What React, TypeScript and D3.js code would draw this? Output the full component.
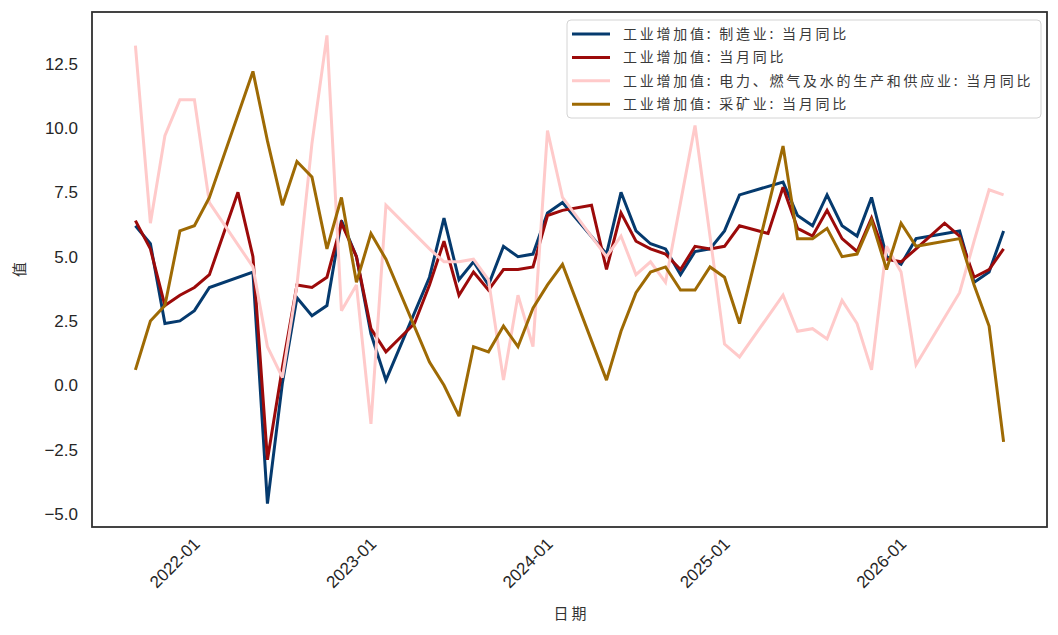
import { useRef, useEffect } from "react";
import * as d3 from "d3";

const WIDTH = 1058;
const HEIGHT = 635;

// month-end observations, null = not reported (Jan, or Jan-Feb combined)
const months = [
  "2021-07", "2021-08", "2021-09", "2021-10", "2021-11", "2021-12",
  "2022-01", "2022-02", "2022-03", "2022-04", "2022-05", "2022-06",
  "2022-07", "2022-08", "2022-09", "2022-10", "2022-11", "2022-12",
  "2023-01", "2023-02", "2023-03", "2023-04", "2023-05", "2023-06",
  "2023-07", "2023-08", "2023-09", "2023-10", "2023-11", "2023-12",
  "2024-01", "2024-02", "2024-03", "2024-04", "2024-05", "2024-06",
  "2024-07", "2024-08", "2024-09", "2024-10", "2024-11", "2024-12",
  "2025-01", "2025-02", "2025-03", "2025-04", "2025-05", "2025-06",
  "2025-07", "2025-08", "2025-09", "2025-10", "2025-11", "2025-12",
  "2026-01", "2026-02", "2026-03", "2026-04", "2026-05", "2026-06",
];

const manufacturing = [
  6.2, 5.5, 2.4, 2.5, 2.9, 3.8,
  null, null, 4.4, -4.6, 0.1, 3.4,
  2.7, 3.1, 6.4, 5.0, 2.0, 0.2,
  null, null, 4.2, 6.5, 4.1, 4.8,
  3.9, 5.4, 5.0, 5.1, 6.7, 7.1,
  null, null, 5.1, 7.5, 6.0, 5.5,
  5.3, 4.3, 5.2, 5.3, 6.0, 7.4,
  null, null, 7.9, 6.6, 6.2, 7.4,
  6.2, 5.8, 7.3, 5.0, 4.7, 5.7,
  null, null, 6.0, 4.0, 4.4, 6.0,
];

const total = [
  6.4, 5.3, 3.1, 3.5, 3.8, 4.3,
  null, 7.5, 5.0, -2.9, 0.7, 3.9,
  3.8, 4.2, 6.3, 5.0, 2.2, 1.3,
  null, 2.4, 3.9, 5.6, 3.5, 4.4,
  3.7, 4.5, 4.5, 4.6, 6.6, 6.8,
  null, 7.0, 4.5, 6.7, 5.6, 5.3,
  5.1, 4.5, 5.4, 5.3, 5.4, 6.2,
  null, 5.9, 7.7, 6.1, 5.8, 6.8,
  5.7, 5.2, 6.5, 4.9, 4.8, 5.3,
  null, 6.3, 5.8, 4.2, 4.5, 5.3,
];

const utilities = [
  13.2, 6.3, 9.7, 11.1, 11.1, 7.1,
  null, null, 4.6, 1.5, 0.3, 3.9,
  9.4, 13.6, 2.9, 3.9, -1.5, 7.0,
  null, null, 5.3, 4.8, 4.8, 4.9,
  4.1, 0.2, 3.5, 1.5, 9.9, 7.3,
  null, null, 5.0, 5.8, 4.3, 4.8,
  4.0, 7.1, 10.1, 5.8, 1.6, 1.1,
  null, null, 3.5, 2.1, 2.2, 1.8,
  3.3, 2.4, 0.6, 5.4, 4.4, 0.8,
  null, null, 3.6, 5.6, 7.6, 7.4,
];

const mining = [
  0.6, 2.5, 3.1, 6.0, 6.2, 7.3,
  null, null, 12.2, 9.5, 7.0, 8.7,
  8.1, 5.3, 7.3, 4.0, 5.9, 4.9,
  null, null, 0.9, 0.0, -1.2, 1.5,
  1.3, 2.3, 1.5, 3.0, 3.9, 4.7,
  null, null, 0.2, 2.1, 3.6, 4.4,
  4.6, 3.7, 3.7, 4.6, 4.2, 2.4,
  null, null, 9.3, 5.7, 5.7, 6.1,
  5.0, 5.1, 6.4, 4.5, 6.3, 5.4,
  null, null, 5.7, 3.9, 2.3, -2.2,
];

const seriesNames = [
  "工业增加值: 制造业: 当月同比",
  "工业增加值: 当月同比",
  "工业增加值: 电力、燃气及水的生产和供应业: 当月同比",
  "工业增加值: 采矿业: 当月同比",
];
const seriesValues = [manufacturing, total, utilities, mining];
const seriesColors = ["#053a6e", "#9c0a0a", "#ffcaca", "#9e6a04"];

const yTicks = [-5, -2.5, 0, 2.5, 5, 7.5, 10, 12.5];
const xTicks = ["2022-01", "2023-01", "2024-01", "2025-01", "2026-01"];

const TICK_FONT = "'Liberation Sans', Arial, sans-serif";
const CJK_FONT = "'Noto Sans CJK SC', 'Noto Sans', sans-serif";

const monthEnd = (s: string) => {
  const [y, m] = s.split("-").map(Number);
  return new Date(y, m, 0);
};
const monthStart = (s: string) => {
  const [y, m] = s.split("-").map(Number);
  return new Date(y, m - 1, 1);
};

export default function App() {
  const svgRef = useRef<SVGSVGElement>(null);

  useEffect(() => {
    if (!svgRef.current) return;
    const svg = d3.select(svgRef.current);
    svg.selectAll("*").remove();

    const left = 92;
    const right = 1047;
    const top = 12;
    const bottom = 527;

    const dates = months.map(monthEnd);
    const t0 = +dates[0];
    const t1 = +dates[dates.length - 1];
    const tPad = (t1 - t0) * 0.05;
    const x = d3
      .scaleTime()
      .domain([new Date(t0 - tPad), new Date(t1 + tPad)])
      .range([left, right]);

    const all = seriesValues.flat().filter((v) => v != null) as number[];
    const [vMin, vMax] = d3.extent(all) as [number, number];
    const vPad = (vMax - vMin) * 0.05;
    const y = d3
      .scaleLinear()
      .domain([vMin - vPad, vMax + vPad])
      .range([bottom, top]);

    svg
      .append("rect")
      .attr("width", WIDTH)
      .attr("height", HEIGHT)
      .attr("fill", "#ffffff");

    const line = d3
      .line<{ d: Date; v: number }>()
      .x((p) => x(p.d))
      .y((p) => y(p.v));

    seriesValues.forEach((vals, i) => {
      const pts = vals
        .map((v, j) => ({ d: dates[j], v: v as number }))
        .filter((p, j) => vals[j] != null);
      svg
        .append("path")
        .datum(pts)
        .attr("d", line)
        .attr("fill", "none")
        .attr("stroke", seriesColors[i])
        .attr("stroke-width", 3)
        .attr("stroke-linejoin", "miter")
        .attr("stroke-miterlimit", 3);
    });

    // frame
    svg
      .append("rect")
      .attr("x", left)
      .attr("y", top)
      .attr("width", right - left)
      .attr("height", bottom - top)
      .attr("fill", "none")
      .attr("stroke", "#303030")
      .attr("stroke-width", 1.8);

    // y ticks
    svg
      .append("g")
      .selectAll("text")
      .data(yTicks)
      .join("text")
      .attr("x", left - 14)
      .attr("y", (d) => y(d))
      .attr("dy", "0.36em")
      .attr("text-anchor", "end")
      .attr("font-family", TICK_FONT)
      .attr("font-size", 17)
      .attr("fill", "#262626")
      .text((d) => d3.format(".1f")(d).replace("-", "\u2212"));

    // x ticks
    svg
      .append("g")
      .selectAll("text")
      .data(xTicks)
      .join("text")
      .attr(
        "transform",
        (d) => `translate(${x(monthStart(d)) - 9},${bottom + 18}) rotate(-45)`
      )
      .attr("text-anchor", "end")
      .attr("font-family", TICK_FONT)
      .attr("font-size", 17)
      .attr("fill", "#262626")
      .text((d) => d);

    // axis labels
    svg
      .append("text")
      .attr("x", (left + right) / 2 + 2)
      .attr("y", 619)
      .attr("text-anchor", "middle")
      .attr("font-family", CJK_FONT)
      .attr("font-size", 15)
      .attr("letter-spacing", 3)
      .attr("fill", "#333333")
      .text("日期");

    svg
      .append("text")
      .attr("transform", `translate(20,${(top + bottom) / 2}) rotate(-90)`)
      .attr("dy", "0.36em")
      .attr("text-anchor", "middle")
      .attr("font-family", CJK_FONT)
      .attr("font-size", 15)
      .attr("fill", "#333333")
      .text("值");

    // legend
    const lg = svg.append("g");
    lg.append("rect")
      .attr("x", 567)
      .attr("y", 20)
      .attr("width", 474)
      .attr("height", 98)
      .attr("rx", 4)
      .attr("fill", "#ffffff")
      .attr("fill-opacity", 0.85)
      .attr("stroke", "#d4d4d4")
      .attr("stroke-width", 1);

    seriesNames.forEach((name, i) => {
      const ly = 34 + i * 23.4;
      lg.append("line")
        .attr("x1", 572)
        .attr("x2", 610)
        .attr("y1", ly)
        .attr("y2", ly)
        .attr("stroke", seriesColors[i])
        .attr("stroke-width", 3);
      lg.append("text")
        .attr("x", 623)
        .attr("y", ly)
        .attr("dy", "0.36em")
        .attr("font-family", CJK_FONT)
        .attr("font-size", 14)
        .attr("letter-spacing", 2.75)
        .attr("fill", "#3a3a3a")
        .text(name);
    });
  }, []);

  return (
    <svg
      ref={svgRef}
      width={WIDTH}
      height={HEIGHT}
      style={{ position: "absolute", left: 0, top: 0 }}
    />
  );
}
